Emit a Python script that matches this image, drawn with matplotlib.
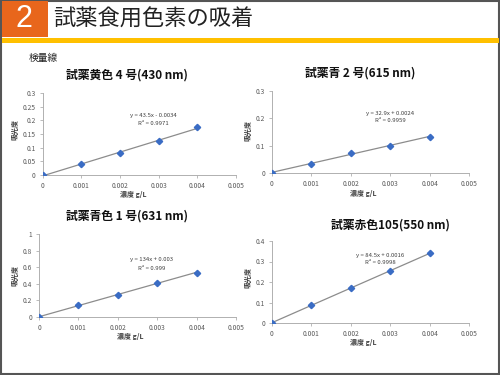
import matplotlib
matplotlib.use('Agg')
import matplotlib.pyplot as plt
from matplotlib.patches import Rectangle

plt.rcParams['font.family'] = ['Noto Sans CJK JP', 'DejaVu Sans']

# concentration g/L
conc = [0, 0.001, 0.002, 0.003, 0.004]

# absorbance for each dye
yellow4 = [0, 0.039, 0.081, 0.125, 0.174]
blue2 = [0, 0.034, 0.072, 0.100, 0.132]
blue1 = [0, 0.14, 0.265, 0.41, 0.535]
red105 = [0, 0.086, 0.17, 0.253, 0.34]

# trend lines (slope, intercept) as printed on the slide
fit_yellow4 = (43.5, -0.0034)
fit_blue2 = (32.9, 0.0024)
fit_blue1 = (134, 0.003)
fit_red105 = (84.5, 0.0016)

eq_yellow4 = ['y = 43.5x - 0.0034', 'R² = 0.9971']
eq_blue2 = ['y = 32.9x + 0.0024', 'R² = 0.9959']
eq_blue1 = ['y = 134x + 0.003', 'R² = 0.999']
eq_red105 = ['y = 84.5x + 0.0016', 'R² = 0.9998']

x_ticks = [0, 0.001, 0.002, 0.003, 0.004, 0.005]
x_ticklabels = ['0', '0.001', '0.002', '0.003', '0.004', '0.005']

W, H = 500, 375


def px_axes(fig, x0, x1, ytop, ybot):
    return fig.add_axes([x0 / W, (H - ybot) / H, (x1 - x0) / W, (ybot - ytop) / H])


def panel(fig, box, y, fit, eq, yticks, yticklabels, ylim, title, title_xy,
          eq_xy, ylab_xy, xlab_xy):
    ax = px_axes(fig, *box)
    slope, icpt = fit
    ax.plot([conc[0], conc[-1]], [slope * conc[0] + icpt, slope * conc[-1] + icpt],
            color='#8c8c8c', lw=0.9, zorder=2)
    ax.plot(conc, y, 'D', color='#3a6cc4', ms=3.2, zorder=3)
    ax.set_xlim(0, 0.005)
    ax.set_ylim(*ylim)
    ax.set_xticks(x_ticks)
    ax.set_xticklabels(x_ticklabels)
    ax.set_yticks(yticks)
    ax.set_yticklabels(yticklabels)
    for s in ['top', 'right']:
        ax.spines[s].set_visible(False)
    for s in ['left', 'bottom']:
        ax.spines[s].set_color('#b0b0b0')
        ax.spines[s].set_linewidth(0.7)
    ax.tick_params(labelsize=4.8, colors='#b0b0b0', labelcolor='#595959',
                   length=2, width=0.6, pad=3)
    ax.patch.set_alpha(0)
    fig.text(title_xy[0] / W, 1 - title_xy[1] / H, title, fontsize=8.5,
             fontweight='bold', ha='center', va='center', color='#111111')
    fig.text(eq_xy[0] / W, 1 - eq_xy[1] / H, eq[0], fontsize=4.3,
             ha='center', va='center', color='#404040')
    fig.text(eq_xy[0] / W, 1 - (eq_xy[1] + 8) / H, eq[1], fontsize=4.3,
             ha='center', va='center', color='#404040')
    fig.text(ylab_xy[0] / W, 1 - ylab_xy[1] / H, '吸光度', fontsize=5,
             fontweight='bold', ha='center', va='center', color='#404040',
             rotation=90)
    fig.text(xlab_xy[0] / W, 1 - xlab_xy[1] / H, '濃度 g/L', fontsize=5,
             fontweight='bold', ha='center', va='center', color='#404040')
    return ax


fig = plt.figure(figsize=(5, 3.75), dpi=100)
fig.patch.set_facecolor('white')

# slide frame and header
fig.patches.append(Rectangle((0.002, 0.003), 0.996, 0.994, transform=fig.transFigure,
                             fill=False, edgecolor='#555555', lw=1.5))
fig.patches.append(Rectangle((0.003, 1 - 37 / H), 46 / W, 36 / H, transform=fig.transFigure,
                             facecolor='#e8661c', edgecolor='none'))
fig.patches.append(Rectangle((0.003, 1 - 43 / H), 0.994, 5 / H, transform=fig.transFigure,
                             facecolor='#ffc000', edgecolor='none'))
fig.text(24 / W, 1 - 19 / H, '2', fontsize=22, color='white', ha='center', va='center',
         family=['Liberation Sans', 'DejaVu Sans'])
fig.text(53 / W, 1 - 19 / H, '試薬食用色素の吸着', fontsize=16, color='#222222',
         ha='left', va='center')
fig.text(29 / W, 1 - 58 / H, '検量線', fontsize=7, color='#222222', ha='left', va='center')

panel(fig, (42.5, 236, 93, 175), yellow4, fit_yellow4, eq_yellow4,
      [0, 0.05, 0.1, 0.15, 0.2, 0.25, 0.3], ['0', '0.05', '0.1', '0.15', '0.2', '0.25', '0.3'],
      (0, 0.3), '試薬黄色 4 号(430 nm)', (127, 75), (153, 115), (15, 129), (133, 195))

panel(fig, (272, 469, 91, 173), blue2, fit_blue2, eq_blue2,
      [0, 0.1, 0.2, 0.3], ['0', '0.1', '0.2', '0.3'],
      (0, 0.3), '試薬青 2 号(615 nm)', (360, 73), (390, 113), (248, 131), (363, 193))

panel(fig, (39, 236, 234, 317), blue1, fit_blue1, eq_blue1,
      [0, 0.2, 0.4, 0.6, 0.8, 1.0], ['0', '0.2', '0.4', '0.6', '0.8', '1'],
      (0, 1), '試薬青色 1 号(631 nm)', (127, 216), (152, 260), (15, 275), (130, 336))

panel(fig, (272, 469, 241, 323), red105, fit_red105, eq_red105,
      [0, 0.1, 0.2, 0.3, 0.4], ['0', '0.1', '0.2', '0.3', '0.4'],
      (0, 0.4), '試薬赤色105(550 nm)', (390, 225), (380, 255), (248, 278), (363, 343))

fig.savefig('out.png', dpi=100)
